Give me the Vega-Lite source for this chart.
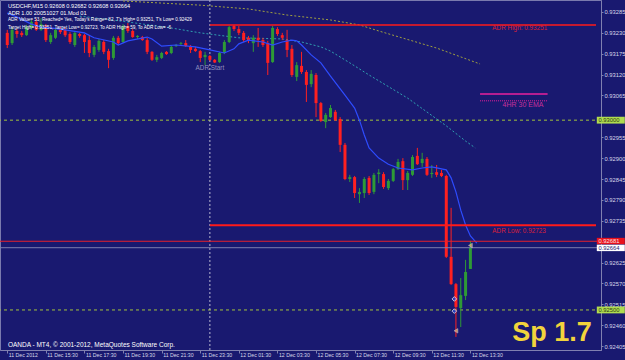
{
"$schema":"https://vega.github.io/schema/vega-lite/v6.json",
"width":601,"height":350,
"autosize":{"type":"none"},
"padding":{"left":0,"top":0,"right":24,"bottom":10},
"background":"#191970",
"config":{"view":{"stroke":"#7A7AAE","strokeWidth":1},"text":{"font":"Liberation Sans"}},
"datasets":{
"bars":[
{"t":"2012-12-11T13:30Z","o":0.93230,"h":0.93238,"l":0.93190,"c":0.93198},
{"t":"2012-12-11T13:45Z","o":0.93203,"h":0.93245,"l":0.93198,"c":0.93238},
{"t":"2012-12-11T14:00Z","o":0.93235,"h":0.93240,"l":0.93217,"c":0.93227},
{"t":"2012-12-11T14:15Z","o":0.93230,"h":0.93235,"l":0.93219,"c":0.93224},
{"t":"2012-12-11T14:30Z","o":0.93224,"h":0.93251,"l":0.93222,"c":0.93245},
{"t":"2012-12-11T14:45Z","o":0.93243,"h":0.93264,"l":0.93238,"c":0.93259},
{"t":"2012-12-11T15:00Z","o":0.93259,"h":0.93267,"l":0.93235,"c":0.93238},
{"t":"2012-12-11T15:15Z","o":0.93238,"h":0.93269,"l":0.93235,"c":0.93253},
{"t":"2012-12-11T15:30Z","o":0.93248,"h":0.93253,"l":0.93206,"c":0.93211},
{"t":"2012-12-11T15:45Z","o":0.93206,"h":0.93230,"l":0.93201,"c":0.93224},
{"t":"2012-12-11T16:00Z","o":0.93217,"h":0.93240,"l":0.93214,"c":0.93238},
{"t":"2012-12-11T16:15Z","o":0.93240,"h":0.93245,"l":0.93227,"c":0.93232},
{"t":"2012-12-11T16:30Z","o":0.93238,"h":0.93243,"l":0.93219,"c":0.93224},
{"t":"2012-12-11T16:45Z","o":0.93227,"h":0.93232,"l":0.93201,"c":0.93206},
{"t":"2012-12-11T17:00Z","o":0.93198,"h":0.93235,"l":0.93193,"c":0.93230},
{"t":"2012-12-11T17:15Z","o":0.93227,"h":0.93230,"l":0.93217,"c":0.93222},
{"t":"2012-12-11T17:30Z","o":0.93224,"h":0.93227,"l":0.93177,"c":0.93206},
{"t":"2012-12-11T17:45Z","o":0.93211,"h":0.93224,"l":0.93166,"c":0.93177},
{"t":"2012-12-11T18:00Z","o":0.93172,"h":0.93198,"l":0.93166,"c":0.93193},
{"t":"2012-12-11T18:15Z","o":0.93185,"h":0.93214,"l":0.93180,"c":0.93209},
{"t":"2012-12-11T18:30Z","o":0.93206,"h":0.93211,"l":0.93174,"c":0.93180},
{"t":"2012-12-11T18:45Z","o":0.93182,"h":0.93188,"l":0.93137,"c":0.93159},
{"t":"2012-12-11T19:00Z","o":0.93164,"h":0.93222,"l":0.93159,"c":0.93217},
{"t":"2012-12-11T19:15Z","o":0.93217,"h":0.93222,"l":0.93198,"c":0.93203},
{"t":"2012-12-11T19:30Z","o":0.93206,"h":0.93253,"l":0.93203,"c":0.93248},
{"t":"2012-12-11T19:45Z","o":0.93248,"h":0.93256,"l":0.93230,"c":0.93235},
{"t":"2012-12-11T20:00Z","o":0.93235,"h":0.93240,"l":0.93217,"c":0.93219},
{"t":"2012-12-11T20:15Z","o":0.93219,"h":0.93224,"l":0.93214,"c":0.93222},
{"t":"2012-12-11T20:30Z","o":0.93219,"h":0.93222,"l":0.93209,"c":0.93211},
{"t":"2012-12-11T20:45Z","o":0.93211,"h":0.93217,"l":0.93174,"c":0.93180},
{"t":"2012-12-11T21:00Z","o":0.93180,"h":0.93182,"l":0.93156,"c":0.93159},
{"t":"2012-12-11T21:15Z","o":0.93159,"h":0.93172,"l":0.93153,"c":0.93166},
{"t":"2012-12-11T21:30Z","o":0.93164,"h":0.93180,"l":0.93161,"c":0.93177},
{"t":"2012-12-11T21:45Z","o":0.93180,"h":0.93182,"l":0.93172,"c":0.93174},
{"t":"2012-12-11T22:00Z","o":0.93177,"h":0.93198,"l":0.93174,"c":0.93193},
{"t":"2012-12-11T22:15Z","o":0.93195,"h":0.93201,"l":0.93193,"c":0.93198},
{"t":"2012-12-11T22:30Z","o":0.93201,"h":0.93206,"l":0.93198,"c":0.93203},
{"t":"2012-12-11T22:45Z","o":0.93203,"h":0.93211,"l":0.93193,"c":0.93195},
{"t":"2012-12-11T23:00Z","o":0.93195,"h":0.93198,"l":0.93177,"c":0.93185},
{"t":"2012-12-11T23:15Z","o":0.93188,"h":0.93193,"l":0.93180,"c":0.93182},
{"t":"2012-12-11T23:30Z","o":0.93182,"h":0.93185,"l":0.93153,"c":0.93164},
{"t":"2012-12-11T23:45Z","o":0.93166,"h":0.93180,"l":0.93145,"c":0.93172},
{"t":"2012-12-12T00:00Z","o":0.93169,"h":0.93172,"l":0.93156,"c":0.93159},
{"t":"2012-12-12T00:15Z","o":0.93159,"h":0.93161,"l":0.93151,"c":0.93152},
{"t":"2012-12-12T00:30Z","o":0.93153,"h":0.93180,"l":0.93151,"c":0.93177},
{"t":"2012-12-12T00:45Z","o":0.93177,"h":0.93211,"l":0.93174,"c":0.93206},
{"t":"2012-12-12T01:00Z","o":0.93206,"h":0.93248,"l":0.93203,"c":0.93245},
{"t":"2012-12-12T01:15Z","o":0.93248,"h":0.93251,"l":0.93235,"c":0.93240},
{"t":"2012-12-12T01:30Z","o":0.93240,"h":0.93248,"l":0.93224,"c":0.93230},
{"t":"2012-12-12T01:45Z","o":0.93230,"h":0.93235,"l":0.93206,"c":0.93211},
{"t":"2012-12-12T02:00Z","o":0.93217,"h":0.93222,"l":0.93203,"c":0.93209},
{"t":"2012-12-12T02:15Z","o":0.93203,"h":0.93224,"l":0.93180,"c":0.93217},
{"t":"2012-12-12T02:30Z","o":0.93217,"h":0.93243,"l":0.93193,"c":0.93211},
{"t":"2012-12-12T02:45Z","o":0.93211,"h":0.93217,"l":0.93193,"c":0.93198},
{"t":"2012-12-12T03:00Z","o":0.93203,"h":0.93209,"l":0.93119,"c":0.93151},
{"t":"2012-12-12T03:15Z","o":0.93153,"h":0.93248,"l":0.93151,"c":0.93243},
{"t":"2012-12-12T03:30Z","o":0.93240,"h":0.93245,"l":0.93222,"c":0.93227},
{"t":"2012-12-12T03:45Z","o":0.93224,"h":0.93230,"l":0.93211,"c":0.93217},
{"t":"2012-12-12T04:00Z","o":0.93211,"h":0.93238,"l":0.93166,"c":0.93185},
{"t":"2012-12-12T04:15Z","o":0.93188,"h":0.93198,"l":0.93114,"c":0.93119},
{"t":"2012-12-12T04:30Z","o":0.93114,"h":0.93153,"l":0.93103,"c":0.93145},
{"t":"2012-12-12T04:45Z","o":0.93143,"h":0.93180,"l":0.93122,"c":0.93127},
{"t":"2012-12-12T05:00Z","o":0.93127,"h":0.93132,"l":0.93048,"c":0.93093},
{"t":"2012-12-12T05:15Z","o":0.93095,"h":0.93132,"l":0.93087,"c":0.93122},
{"t":"2012-12-12T05:30Z","o":0.93119,"h":0.93124,"l":0.93008,"c":0.93045},
{"t":"2012-12-12T05:45Z","o":0.93045,"h":0.93048,"l":0.92995,"c":0.92998},
{"t":"2012-12-12T06:00Z","o":0.92995,"h":0.93019,"l":0.92979,"c":0.93014},
{"t":"2012-12-12T06:15Z","o":0.93008,"h":0.93040,"l":0.93006,"c":0.93032},
{"t":"2012-12-12T06:30Z","o":0.93022,"h":0.93027,"l":0.92998,"c":0.93000},
{"t":"2012-12-12T06:45Z","o":0.93003,"h":0.93008,"l":0.92916,"c":0.92935},
{"t":"2012-12-12T07:00Z","o":0.92935,"h":0.92940,"l":0.92842,"c":0.92845},
{"t":"2012-12-12T07:15Z","o":0.92845,"h":0.92856,"l":0.92837,"c":0.92850},
{"t":"2012-12-12T07:30Z","o":0.92850,"h":0.92853,"l":0.92795,"c":0.92808},
{"t":"2012-12-12T07:45Z","o":0.92805,"h":0.92821,"l":0.92782,"c":0.92811},
{"t":"2012-12-12T08:00Z","o":0.92808,"h":0.92850,"l":0.92795,"c":0.92845},
{"t":"2012-12-12T08:15Z","o":0.92848,"h":0.92853,"l":0.92803,"c":0.92808},
{"t":"2012-12-12T08:30Z","o":0.92811,"h":0.92861,"l":0.92805,"c":0.92856},
{"t":"2012-12-12T08:45Z","o":0.92858,"h":0.92871,"l":0.92834,"c":0.92862},
{"t":"2012-12-12T09:00Z","o":0.92858,"h":0.92863,"l":0.92819,"c":0.92824},
{"t":"2012-12-12T09:15Z","o":0.92821,"h":0.92845,"l":0.92816,"c":0.92840},
{"t":"2012-12-12T09:30Z","o":0.92840,"h":0.92874,"l":0.92837,"c":0.92871},
{"t":"2012-12-12T09:45Z","o":0.92871,"h":0.92898,"l":0.92869,"c":0.92890},
{"t":"2012-12-12T10:00Z","o":0.92892,"h":0.92900,"l":0.92816,"c":0.92842},
{"t":"2012-12-12T10:15Z","o":0.92842,"h":0.92866,"l":0.92816,"c":0.92861},
{"t":"2012-12-12T10:30Z","o":0.92856,"h":0.92908,"l":0.92853,"c":0.92903},
{"t":"2012-12-12T10:45Z","o":0.92906,"h":0.92927,"l":0.92882,"c":0.92884},
{"t":"2012-12-12T11:00Z","o":0.92887,"h":0.92914,"l":0.92877,"c":0.92898},
{"t":"2012-12-12T11:15Z","o":0.92898,"h":0.92903,"l":0.92853,"c":0.92856},
{"t":"2012-12-12T11:30Z","o":0.92858,"h":0.92882,"l":0.92848,"c":0.92861},
{"t":"2012-12-12T11:45Z","o":0.92863,"h":0.92882,"l":0.92850,"c":0.92856},
{"t":"2012-12-12T12:00Z","o":0.92861,"h":0.92869,"l":0.92850,"c":0.92853},
{"t":"2012-12-12T12:15Z","o":0.92853,"h":0.92856,"l":0.92637,"c":0.92640},
{"t":"2012-12-12T12:30Z","o":0.92640,"h":0.92769,"l":0.92566,"c":0.92568},
{"t":"2012-12-12T12:45Z","o":0.92568,"h":0.92571,"l":0.92429,"c":0.92508},
{"t":"2012-12-12T13:00Z","o":0.92505,"h":0.92584,"l":0.92455,"c":0.92539},
{"t":"2012-12-12T13:15Z","o":0.92537,"h":0.92632,"l":0.92526,"c":0.92600},
{"t":"2012-12-12T13:30Z","o":0.92608,"h":0.92682,"l":0.92608,"c":0.92664}
],
"blue":[
{"t":"2012-12-11T13:30Z","p":0.93282},{"t":"2012-12-11T14:00Z","p":0.93272},{"t":"2012-12-11T14:45Z","p":0.93253},
{"t":"2012-12-11T15:15Z","p":0.93245},{"t":"2012-12-11T15:45Z","p":0.93243},{"t":"2012-12-11T16:30Z","p":0.93238},
{"t":"2012-12-11T17:30Z","p":0.93230},{"t":"2012-12-11T18:00Z","p":0.93217},{"t":"2012-12-11T19:00Z","p":0.93206},
{"t":"2012-12-11T19:15Z","p":0.93198},{"t":"2012-12-11T19:45Z","p":0.93209},{"t":"2012-12-11T20:45Z","p":0.93219},
{"t":"2012-12-11T21:00Z","p":0.93214},{"t":"2012-12-11T21:30Z","p":0.93195},{"t":"2012-12-11T22:15Z","p":0.93198},
{"t":"2012-12-11T23:15Z","p":0.93193},{"t":"2012-12-12T00:00Z","p":0.93185},{"t":"2012-12-12T00:45Z","p":0.93177},
{"t":"2012-12-12T01:15Z","p":0.93188},{"t":"2012-12-12T01:30Z","p":0.93201},{"t":"2012-12-12T02:00Z","p":0.93211},
{"t":"2012-12-12T02:45Z","p":0.93206},{"t":"2012-12-12T03:15Z","p":0.93198},{"t":"2012-12-12T03:45Z","p":0.93206},
{"t":"2012-12-12T04:15Z","p":0.93211},{"t":"2012-12-12T04:30Z","p":0.93209},{"t":"2012-12-12T04:45Z","p":0.93198},
{"t":"2012-12-12T05:15Z","p":0.93172},{"t":"2012-12-12T05:45Z","p":0.93151},{"t":"2012-12-12T06:15Z","p":0.93116},
{"t":"2012-12-12T07:00Z","p":0.93066},{"t":"2012-12-12T07:30Z","p":0.93032},{"t":"2012-12-12T07:45Z","p":0.93000},
{"t":"2012-12-12T08:00Z","p":0.92961},{"t":"2012-12-12T08:15Z","p":0.92927},{"t":"2012-12-12T08:45Z","p":0.92900},
{"t":"2012-12-12T09:15Z","p":0.92884},{"t":"2012-12-12T09:45Z","p":0.92874},{"t":"2012-12-12T10:30Z","p":0.92869},
{"t":"2012-12-12T11:00Z","p":0.92874},{"t":"2012-12-12T11:30Z","p":0.92877},{"t":"2012-12-12T12:15Z","p":0.92869},
{"t":"2012-12-12T12:30Z","p":0.92848},{"t":"2012-12-12T12:45Z","p":0.92811},{"t":"2012-12-12T13:00Z","p":0.92763},
{"t":"2012-12-12T13:15Z","p":0.92724},{"t":"2012-12-12T13:30Z","p":0.92695},{"t":"2012-12-12T13:50Z","p":0.92676}
],
"olive":[
{"t":"2012-12-11T19:30Z","p":0.93314},{"t":"2012-12-11T23:30Z","p":0.93303},{"t":"2012-12-12T02:00Z","p":0.93293},
{"t":"2012-12-12T04:00Z","p":0.93277},{"t":"2012-12-12T06:15Z","p":0.93264},{"t":"2012-12-12T07:45Z","p":0.93251},
{"t":"2012-12-12T08:45Z","p":0.93235},{"t":"2012-12-12T11:45Z","p":0.93190},{"t":"2012-12-12T14:00Z","p":0.93148}
],
"teal":[
{"t":"2012-12-11T17:15Z","p":0.93274},{"t":"2012-12-11T18:30Z","p":0.93267},{"t":"2012-12-11T21:45Z","p":0.93245},
{"t":"2012-12-11T23:30Z","p":0.93230},{"t":"2012-12-12T01:30Z","p":0.93217},{"t":"2012-12-12T03:45Z","p":0.93214},
{"t":"2012-12-12T04:45Z","p":0.93206},{"t":"2012-12-12T05:45Z","p":0.93193},{"t":"2012-12-12T06:15Z","p":0.93182},
{"t":"2012-12-12T07:15Z","p":0.93151},{"t":"2012-12-12T08:15Z","p":0.93119},{"t":"2012-12-12T10:15Z","p":0.93058},
{"t":"2012-12-12T12:15Z","p":0.92985},{"t":"2012-12-12T13:15Z","p":0.92945},{"t":"2012-12-12T13:45Z","p":0.92927}
]
},
"layer":[
{"data":{"values":[{"p":0.93},{"p":0.925}]},
 "mark":{"type":"rule","stroke":"#A2C23C","strokeDash":[3,3],"strokeWidth":1},
 "encoding":{"y":{"field":"p","type":"quantitative","title":null,
   "scale":{"domain":[0.923945,0.933166],"zero":false,"nice":false},
   "axis":{"orient":"right","values":[0.92405,0.9246,0.92515,0.9257,0.92625,0.92735,0.9279,0.92845,0.929,0.92955,0.93065,0.9312,0.93175,0.9323,0.93285],
     "tickCount":30,
     "format":".5f","labelFont":"Liberation Sans","labelFontSize":5.8,"labelColor":"#D8D8E8","tickColor":"#8080B0","domainColor":"#8080B0","tickSize":2,"labelPadding":1,"grid":false,"labelOverlap":false,"labelFlush":false,"title":null}}}},
{"data":{"values":[{"t":"2012-12-12T00:00Z"}]},
 "mark":{"type":"rule","stroke":"#B8B8D0","strokeDash":[2,2],"strokeWidth":1},
 "encoding":{"x":{"field":"t","type":"temporal","title":null,
   "scale":{"type":"utc","domain":[{"year":2012,"month":12,"date":11,"hours":13,"minutes":22,"seconds":58,"utc":true},{"year":2012,"month":12,"date":12,"hours":20,"minutes":0,"seconds":30,"utc":true}]},
   "axis":{"orient":"bottom","tickCount":30,"values":[
     {"year":2012,"month":12,"date":11,"hours":13,"minutes":30,"utc":true},{"year":2012,"month":12,"date":11,"hours":15,"minutes":30,"utc":true},
     {"year":2012,"month":12,"date":11,"hours":17,"minutes":30,"utc":true},{"year":2012,"month":12,"date":11,"hours":19,"minutes":30,"utc":true},
     {"year":2012,"month":12,"date":11,"hours":21,"minutes":30,"utc":true},{"year":2012,"month":12,"date":11,"hours":23,"minutes":30,"utc":true},
     {"year":2012,"month":12,"date":12,"hours":1,"minutes":30,"utc":true},{"year":2012,"month":12,"date":12,"hours":3,"minutes":30,"utc":true},
     {"year":2012,"month":12,"date":12,"hours":5,"minutes":30,"utc":true},{"year":2012,"month":12,"date":12,"hours":7,"minutes":30,"utc":true},
     {"year":2012,"month":12,"date":12,"hours":9,"minutes":30,"utc":true},{"year":2012,"month":12,"date":12,"hours":11,"minutes":30,"utc":true},
     {"year":2012,"month":12,"date":12,"hours":13,"minutes":30,"utc":true}],
     "labelExpr":"utcFormat(datum.value,'%d %H:%M')=='11 13:30' ? '11 Dec 2012' : utcFormat(datum.value,'%d %b %H:%M')",
     "labelFont":"Liberation Sans","labelFontSize":5.2,"labelColor":"#D8D8E8","tickColor":"#8080B0","domainColor":"#8080B0","tickSize":3,
     "labelAlign":"left","labelBaseline":"top","labelPadding":-1,"labelOffset":1,"grid":false,"labelOverlap":false,"labelFlush":false,"title":null}}}},
{"data":{"name":"olive"},"mark":{"type":"line","stroke":"#A0A040","strokeDash":[2,2],"strokeWidth":1,"clip":true},
 "encoding":{"x":{"field":"t","type":"temporal","title":null},"y":{"field":"p","type":"quantitative","title":null}}},
{"data":{"name":"teal"},"mark":{"type":"line","stroke":"#30A0B0","strokeDash":[2,2],"strokeWidth":1,"clip":true},
 "encoding":{"x":{"field":"t","type":"temporal","title":null},"y":{"field":"p","type":"quantitative","title":null}}},
{"data":{"name":"bars"},"mark":{"type":"rule","strokeWidth":1},
 "encoding":{"x":{"field":"t","type":"temporal","title":null},"y":{"field":"l","type":"quantitative","title":null},"y2":{"field":"h"},
   "color":{"condition":{"test":"datum.c>=datum.o","value":"#2E9A36"},"value":"#FF2020"}}},
{"data":{"name":"bars"},"mark":{"type":"bar","size":3},
 "encoding":{"x":{"field":"t","type":"temporal","title":null},"y":{"field":"o","type":"quantitative","title":null},"y2":{"field":"c"},
   "color":{"condition":{"test":"datum.c>=datum.o","value":"#2E9A36"},"value":"#FF2020"}}},
{"data":{"name":"blue"},"mark":{"type":"line","stroke":"#2E4CFF","strokeWidth":1.2,"clip":true},
 "encoding":{"x":{"field":"t","type":"temporal","title":null},"y":{"field":"p","type":"quantitative","title":null}}},
{"data":{"values":[{"p":0.92664}]},"mark":{"type":"rule","stroke":"#7E7EAE","strokeWidth":1},
 "encoding":{"y":{"field":"p","type":"quantitative","title":null}}},
{"data":{"values":[{"p":0.92681}]},"mark":{"type":"rule","stroke":"#E8202A","strokeWidth":1},
 "encoding":{"y":{"field":"p","type":"quantitative","title":null}}},
{"data":{"values":[{"t":"2012-12-12T00:00Z","t2":"2012-12-12T20:00:30Z","p":0.93251}]},"mark":{"type":"rule","stroke":"#FF1A1A","strokeWidth":1.5},
 "encoding":{"x":{"field":"t","type":"temporal","title":null},"x2":{"field":"t2"},"y":{"field":"p","type":"quantitative","title":null}}},
{"data":{"values":[{"t":"2012-12-12T00:00Z","t2":"2012-12-12T20:00:30Z","p":0.92723}]},"mark":{"type":"rule","stroke":"#FF1A1A","strokeWidth":2},
 "encoding":{"x":{"field":"t","type":"temporal","title":null},"x2":{"field":"t2"},"y":{"field":"p","type":"quantitative","title":null}}},
{"data":{"values":[{"t":"2012-12-12T14:00Z","t2":"2012-12-12T17:30Z","p":0.93069}]},"mark":{"type":"rule","stroke":"#E8209C","strokeWidth":1.5},
 "encoding":{"x":{"field":"t","type":"temporal","title":null},"x2":{"field":"t2"},"y":{"field":"p","type":"quantitative","title":null}}},
{"data":{"values":[{"t":"2012-12-12T14:00Z","t2":"2012-12-12T17:30Z","p":0.93051}]},"mark":{"type":"rule","stroke":"#E8209C","strokeWidth":1,"strokeDash":[1,1]},
 "encoding":{"x":{"field":"t","type":"temporal","title":null},"x2":{"field":"t2"},"y":{"field":"p","type":"quantitative","title":null}}},
{"data":{"values":[{"t":"2012-12-12T14:38Z","p":0.93243,"label":"ADR High: 0.93251"},{"t":"2012-12-12T14:38Z","p":0.92708,"label":"ADR Low: 0.92723"}]},
 "mark":{"type":"text","align":"left","baseline":"middle","fontSize":6.4,"color":"#D8203C"},
 "encoding":{"x":{"field":"t","type":"temporal","title":null},"y":{"field":"p","type":"quantitative","title":null},"text":{"field":"label"}}},
{"data":{"values":[{"t":"2012-12-12T15:10Z","p":0.93040,"label":"4HR 30 EMA"}]},
 "mark":{"type":"text","align":"left","baseline":"middle","fontSize":7,"color":"#C8309C"},
 "encoding":{"x":{"field":"t","type":"temporal","title":null},"y":{"field":"p","type":"quantitative","title":null},"text":{"field":"label"}}},
{"data":{"values":[{"t":"2012-12-12T00:00Z","p":0.93137,"label":"ADR Start"}]},
 "mark":{"type":"text","align":"center","baseline":"middle","fontSize":6.4,"color":"#9090BC"},
 "encoding":{"x":{"field":"t","type":"temporal","title":null},"y":{"field":"p","type":"quantitative","title":null},"text":{"field":"label"}}},
{"data":{"values":[
  {"t":"2012-12-11T13:32Z","p":0.93301,"label":"USDCHF,M15  0.92608 0.92682 0.92608 0.92664"},
  {"t":"2012-12-11T13:32Z","p":0.93283,"label":"ADR 1.00 20051027 01.Mod 01"}]},
 "mark":{"type":"text","align":"left","baseline":"middle","fontSize":5.6,"color":"#FFFFFF"},
 "encoding":{"x":{"field":"t","type":"temporal","title":null},"y":{"field":"p","type":"quantitative","title":null},"text":{"field":"label"}}},
{"data":{"values":[
  {"t":"2012-12-11T13:32Z","p":0.93264,"label":"ADR Value= 53, Reached= Yes, Today's Range= 82, T's High= 0.93251, T's Low= 0.92429"},
  {"t":"2012-12-11T13:32Z","p":0.93243,"label":"Target High= 0.93251, Target Low= 0.92723, To ADR High= 59, To ADR Low= -6"}]},
 "mark":{"type":"text","align":"left","baseline":"middle","fontSize":4.6,"color":"#FFFFFF"},
 "encoding":{"x":{"field":"t","type":"temporal","title":null},"y":{"field":"p","type":"quantitative","title":null},"text":{"field":"label"}}},
{"data":{"values":[
  {"t":"2012-12-11T13:32Z","p":0.92408,"label":"OANDA - MT4, © 2001-2012, MetaQuotes Software Corp."}]},
 "mark":{"type":"text","align":"left","baseline":"middle","fontSize":6.5,"color":"#FFFFFF"},
 "encoding":{"x":{"field":"t","type":"temporal","title":null},"y":{"field":"p","type":"quantitative","title":null},"text":{"field":"label"}}},
{"data":{"values":[{"t":"2012-12-12T12:40Z","p":0.92529},{"t":"2012-12-12T12:40Z","p":0.92497}]},
 "mark":{"type":"point","shape":"diamond","size":22,"filled":true,"fill":"#2848E0","stroke":"#FFFFFF","strokeWidth":1},
 "encoding":{"x":{"field":"t","type":"temporal","title":null},"y":{"field":"p","type":"quantitative","title":null}}},
{"data":{"values":[{"t":"2012-12-12T13:30Z","p":0.92670},{"t":"2012-12-12T12:45Z","p":0.92445}]},
 "mark":{"type":"point","shape":"triangle-left","size":20,"filled":true,"fill":"#F2BE70","stroke":"#FFFFFF","strokeWidth":0.5},
 "encoding":{"x":{"field":"t","type":"temporal","title":null},"y":{"field":"p","type":"quantitative","title":null}}},
{"data":{"values":[{"t":"2012-12-12T15:40Z","p":0.92418,"label":"Sp 1.7"}]},
 "mark":{"type":"text","align":"left","baseline":"alphabetic","fontSize":27,"fontWeight":"bold","color":"#F2D43C"},
 "encoding":{"x":{"field":"t","type":"temporal","title":null},"y":{"field":"p","type":"quantitative","title":null},"text":{"field":"label"}}},
{"data":{"values":[{"t":"2012-12-12T20:03Z","t2":"2012-12-12T21:30Z","p":0.92991,"p2":0.93009}]},
 "mark":{"type":"rect","fill":"#B0DC50"},
 "encoding":{"x":{"field":"t","type":"temporal","title":null},"x2":{"field":"t2"},"y":{"field":"p","type":"quantitative","title":null},"y2":{"field":"p2"}}},
{"data":{"values":[{"t":"2012-12-12T20:03Z","t2":"2012-12-12T21:30Z","p":0.92491,"p2":0.92509}]},
 "mark":{"type":"rect","fill":"#B0DC50"},
 "encoding":{"x":{"field":"t","type":"temporal","title":null},"x2":{"field":"t2"},"y":{"field":"p","type":"quantitative","title":null},"y2":{"field":"p2"}}},
{"data":{"values":[{"t":"2012-12-12T20:03Z","t2":"2012-12-12T21:30Z","p":0.92673,"p2":0.92690}]},
 "mark":{"type":"rect","fill":"#E8101C"},
 "encoding":{"x":{"field":"t","type":"temporal","title":null},"x2":{"field":"t2"},"y":{"field":"p","type":"quantitative","title":null},"y2":{"field":"p2"}}},
{"data":{"values":[{"t":"2012-12-12T20:03Z","t2":"2012-12-12T21:30Z","p":0.92655,"p2":0.92672}]},
 "mark":{"type":"rect","fill":"#FFFFFF"},
 "encoding":{"x":{"field":"t","type":"temporal","title":null},"x2":{"field":"t2"},"y":{"field":"p","type":"quantitative","title":null},"y2":{"field":"p2"}}},
{"data":{"values":[{"t":"2012-12-12T20:08Z","p":0.93,"label":"0.93000"},{"t":"2012-12-12T20:08Z","p":0.925,"label":"0.92500"}]},
 "mark":{"type":"text","align":"left","baseline":"middle","fontSize":5.8,"color":"#2A3A10"},
 "encoding":{"x":{"field":"t","type":"temporal","title":null},"y":{"field":"p","type":"quantitative","title":null},"text":{"field":"label"}}},
{"data":{"values":[{"t":"2012-12-12T20:08Z","p":0.92681,"label":"0.92681"}]},
 "mark":{"type":"text","align":"left","baseline":"middle","fontSize":5.8,"color":"#FFE0E0"},
 "encoding":{"x":{"field":"t","type":"temporal","title":null},"y":{"field":"p","type":"quantitative","title":null},"text":{"field":"label"}}},
{"data":{"values":[{"t":"2012-12-12T20:08Z","p":0.92664,"label":"0.92664"}]},
 "mark":{"type":"text","align":"left","baseline":"middle","fontSize":5.8,"color":"#191970"},
 "encoding":{"x":{"field":"t","type":"temporal","title":null},"y":{"field":"p","type":"quantitative","title":null},"text":{"field":"label"}}}
]
}
